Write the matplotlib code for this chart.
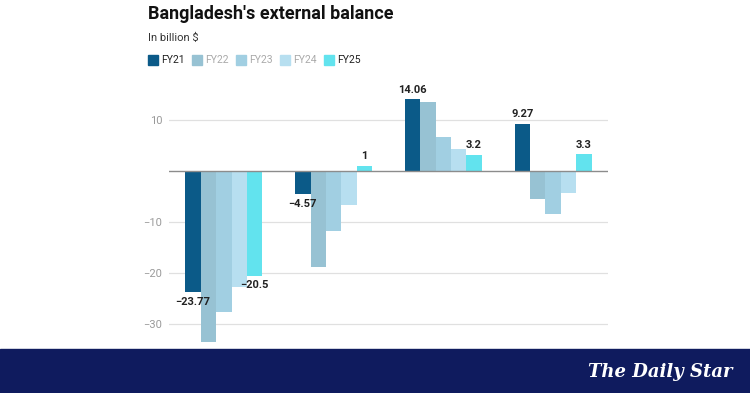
import matplotlib.pyplot as plt
import matplotlib.patches as mpatches
import numpy as np

plt.rcParams['font.family'] = ['Roboto', 'DejaVu Sans']

# data
categories = ["Trade balance", "Current account", "Financial account", "Overall balance"]
years = ["FY21", "FY22", "FY23", "FY24", "FY25"]
fy21 = [-23.77, -4.57, 14.06, 9.27]
fy22 = [-33.5, -18.8, 13.6, -5.5]
fy23 = [-27.6, -11.8, 6.7, -8.4]
fy24 = [-22.7, -6.7, 4.3, -4.4]
fy25 = [-20.5, 1.0, 3.2, 3.3]
series = [fy21, fy22, fy23, fy24, fy25]
colors = ["#0b5a88", "#97c2d3", "#a1cfe2", "#b7dff0", "#62e3ee"]
legend_text_colors = ["#222222", "#aaaaaa", "#aaaaaa", "#aaaaaa", "#222222"]
labelled = [0, 4]  # series that carry value labels

W, H = 750, 393
fig = plt.figure(figsize=(W / 100, H / 100), dpi=100)

# axes placed in pixel terms
ax = fig.add_axes([169 / W, 1 - 354.6 / H, 439 / W, (354.6 - 89.4) / H])
ax.set_xlim(-0.5, 3.5)
ax.set_ylim(-36, 16)

x = np.arange(len(categories))
bw = 0.14
for i, vals in enumerate(series):
    xs = x + (i - 2) * bw
    ax.bar(xs, vals, width=bw, color=colors[i], zorder=3)
    if i in labelled:
        for xx, v in zip(xs, vals):
            txt = f"{v:g}".replace("-", "\u2212")
            if v < 0:
                ax.text(xx, v - 0.9, txt, ha="center", va="top", fontsize=8,
                        fontweight="bold", color="#222222", zorder=5)
            else:
                ax.text(xx, v + 0.9, txt, ha="center", va="bottom", fontsize=8,
                        fontweight="bold", color="#222222", zorder=5)

ax.set_yticks([-30, -20, -10, 10])
ax.set_yticklabels(["\u221230", "\u221220", "\u221210", "10"])
ax.tick_params(axis="y", length=0, pad=5, labelsize=8, labelcolor="#9a9a9a")
ax.grid(axis="y", color="#e0e0e0", linewidth=0.9, zorder=0)
ax.axhline(0, color="#8c8c8c", linewidth=1.0, zorder=4)
ax.set_xticks(x)
ax.tick_params(axis="x", length=0, labelbottom=False)  # category labels sit under the banner
for s in ax.spines.values():
    s.set_visible(False)

# title block
fig.text(148 / W, 1 - 14 / H, "Bangladesh's external balance", fontsize=13,
         fontweight="bold", color="#111111", va="center", ha="left")
fig.text(148 / W, 1 - 38 / H, "In billion $", fontsize=8, color="#333333",
         va="center", ha="left")

# legend
lx = 148
for yr, c, tc in zip(years, colors, legend_text_colors):
    fig.add_artist(mpatches.Rectangle((lx / W, 1 - 65 / H), 10 / W, 10 / H,
                                      transform=fig.transFigure, color=c))
    fig.text((lx + 13) / W, 1 - 60 / H, yr, fontsize=7.5, color=tc,
             va="center", ha="left")
    lx += 44

# banner
fig.add_artist(mpatches.Rectangle((0, 0), 1, 44 / H, transform=fig.transFigure,
                                  color="#0f1b5e", zorder=10))
fig.text(660 / W, 21 / H, "The Daily Star", fontsize=13, color="white",
         family="DejaVu Serif", fontweight="bold", style="italic",
         ha="center", va="center", zorder=11)

fig.savefig("out.png", dpi=100)
